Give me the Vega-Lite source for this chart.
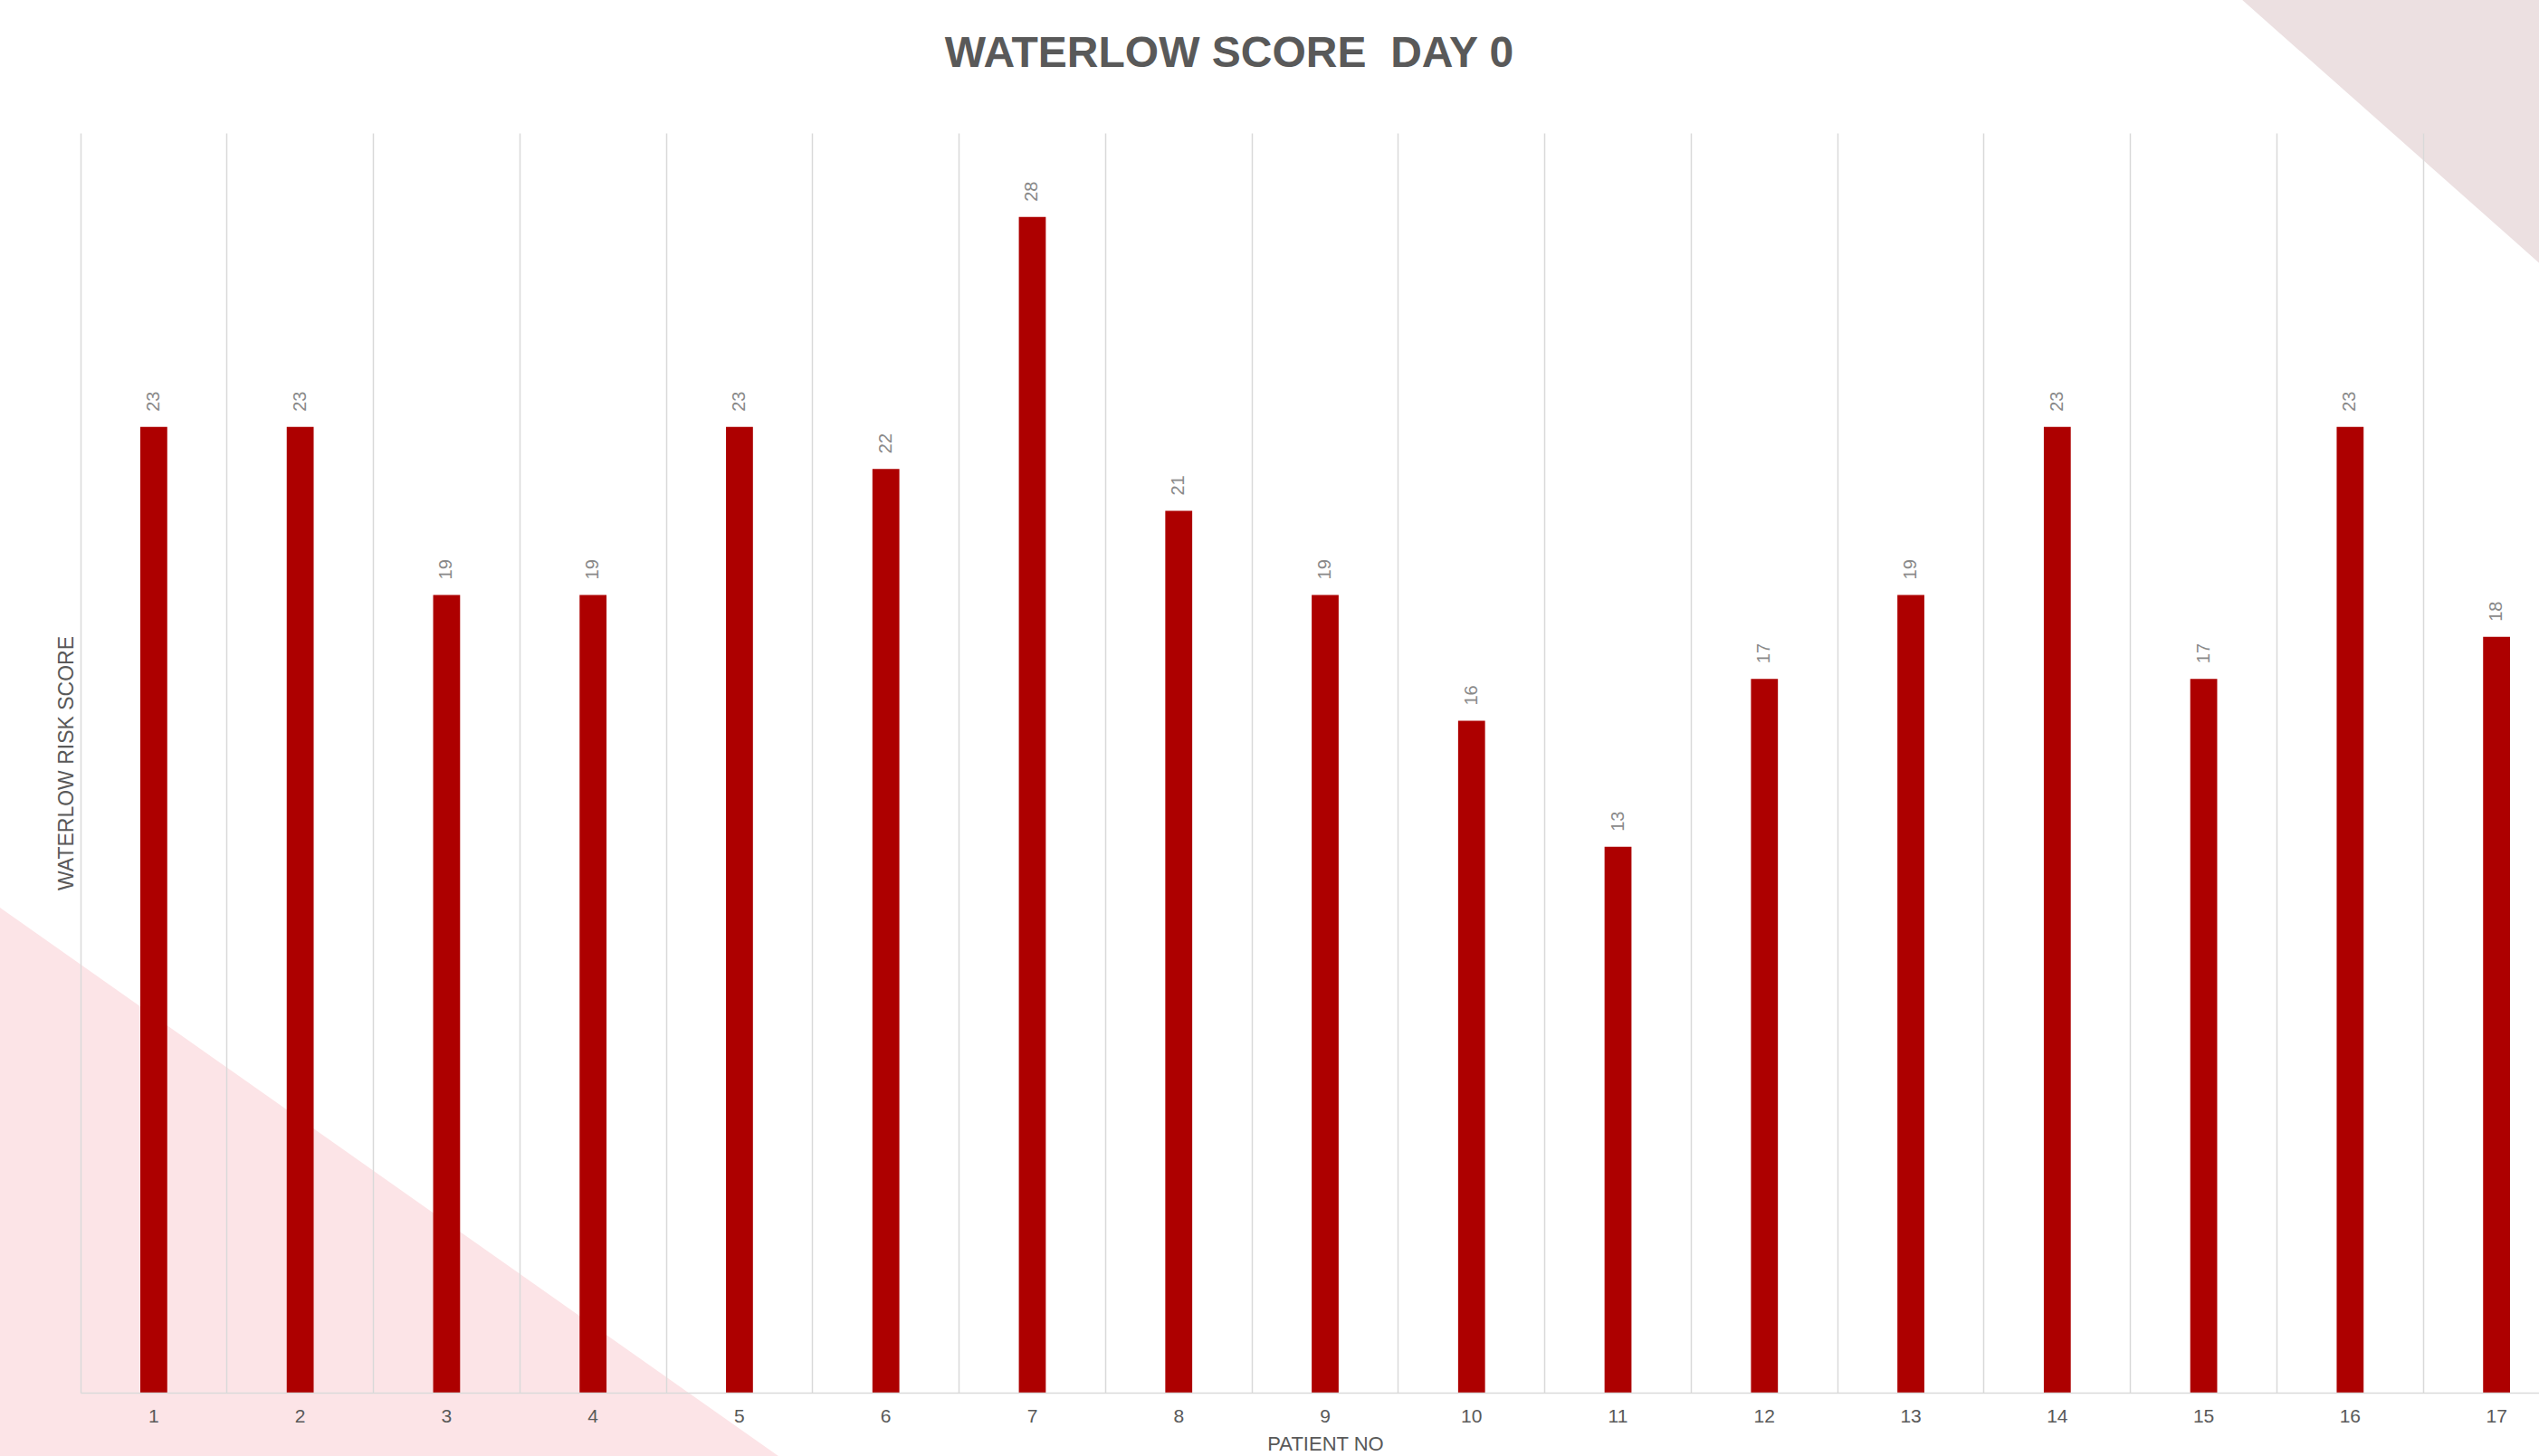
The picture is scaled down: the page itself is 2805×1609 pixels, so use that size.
{
  "$schema": "https://vega.github.io/schema/vega-lite/v6.json",
  "autosize": {"type": "none"},
  "padding": {"left": 89, "top": 147, "right": 0, "bottom": 70},
  "width": 2716,
  "height": 1392,
  "background": "#ffffff",
  "title": {
    "text": "WATERLOW SCORE\u00a0 DAY 0",
    "font": "Liberation Sans",
    "fontSize": 48,
    "fontWeight": "bold",
    "color": "#595959",
    "anchor": "middle",
    "frame": "group",
    "dx": -89,
    "baseline": "alphabetic",
    "offset": -122
  },
  "datasets": {
    "scores": [
      {"patient": "1", "score": 23},
      {"patient": "2", "score": 23},
      {"patient": "3", "score": 19},
      {"patient": "4", "score": 19},
      {"patient": "5", "score": 23},
      {"patient": "6", "score": 22},
      {"patient": "7", "score": 28},
      {"patient": "8", "score": 21},
      {"patient": "9", "score": 19},
      {"patient": "10", "score": 16},
      {"patient": "11", "score": 13},
      {"patient": "12", "score": 17},
      {"patient": "13", "score": 19},
      {"patient": "14", "score": 23},
      {"patient": "15", "score": 17},
      {"patient": "16", "score": 23},
      {"patient": "17", "score": 18}
    ],
    "decor": [
      {"shape": "bottomleft", "px": -0.668, "top": 13.07, "bottom": -3.47},
      {"shape": "bottomleft", "px": 6.064, "top": -3.47, "bottom": -3.47},
      {"shape": "topright", "px": 15.263, "top": 33.17, "bottom": 33.17},
      {"shape": "topright", "px": 17.908, "top": 33.17, "bottom": 25.0}
    ]
  },
  "layer": [
    {
      "data": {"name": "decor"},
      "mark": {"type": "area", "opacity": 1, "clip": false},
      "encoding": {
        "x": {"field": "px", "type": "quantitative", "axis": null,
              "scale": {"domain": [0.5, 17.5], "range": [0, 2750], "zero": false, "nice": false}},
        "y": {"field": "top", "type": "quantitative", "scale": {"domain": [0, 30], "nice": false, "zero": false}},
        "y2": {"field": "bottom"},
        "color": {"field": "shape", "type": "nominal", "legend": null,
                  "scale": {"domain": ["bottomleft", "topright"], "range": ["#fce4e7", "#ece0e1"]}},
        "detail": {"field": "shape"}
      }
    },
    {
      "data": {"name": "scores"},
      "layer": [
        {
          "mark": {"type": "bar", "color": "#ad0000", "width": {"band": 0.184}},
          "encoding": {
            "x": {
              "field": "patient", "type": "ordinal", "sort": null,
              "scale": {"range": [0, 2750], "paddingInner": 0, "paddingOuter": 0},
              "axis": {
                "title": "PATIENT NO",
                "titleFont": "Liberation Sans",
                "titleFontSize": 22,
                "titleFontWeight": "normal",
                "titleColor": "#595959",
                "titlePadding": 10,
                "labelFont": "Liberation Sans",
                "labelFontSize": 21,
                "labelColor": "#595959",
                "labelAngle": 0,
                "labelPadding": 15,
                "bandPosition": 0,
                "ticks": false,
                "grid": true,
                "gridColor": "#d9d9d9",
                "gridWidth": 1.5,
                "domainColor": "#d9d9d9",
                "domainWidth": 1.5,
                "zindex": 1
              }
            },
            "y": {
              "field": "score", "type": "quantitative",
              "scale": {"domain": [0, 30], "nice": false, "zero": false},
              "axis": {
                "title": "WATERLOW RISK SCORE",
                "titleFont": "Liberation Sans",
                "titleFontSize": 23,
                "titleFontWeight": "normal",
                "titleColor": "#595959",
                "titlePadding": 4,
                "labels": false,
                "ticks": false,
                "domain": false,
                "grid": false,
                "minExtent": 0,
                "zindex": 1
              }
            }
          }
        },
        {
          "mark": {"type": "text", "angle": 270, "align": "left", "baseline": "middle", "dx": 17,
                   "font": "Liberation Sans", "fontSize": 20, "color": "#898989"},
          "encoding": {
            "x": {"field": "patient", "type": "ordinal", "sort": null, "bandPosition": 0.5},
            "y": {"field": "score", "type": "quantitative"},
            "text": {"field": "score", "type": "quantitative"}
          }
        }
      ]
    }
  ],
  "resolve": {"scale": {"x": "independent", "color": "independent"}},
  "config": {
    "view": {"stroke": null}
  }
}
